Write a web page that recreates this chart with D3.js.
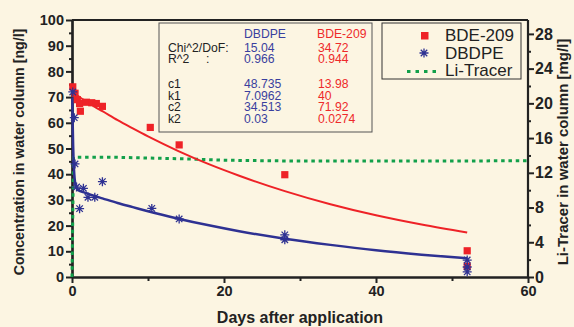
<!DOCTYPE html>
<html><head><meta charset="utf-8">
<script src="https://cdn.jsdelivr.net/npm/d3@7"></script>
<style>
body{margin:0;background:#fcf5e2;}
svg{display:block;font-family:"Liberation Sans",Arial,sans-serif;}
</style></head><body>
<svg id="chart" width="574" height="327"></svg>
<script>
// ---- data ----
const bdeDays   = [0.1, 0.4, 0.7, 1.0, 1.1, 1.9, 2.6, 3.2, 4.0, 10.3, 14.1, 28, 52, 52];
const bdeValues = [74, 71.5, 69, 67.5, 64.5, 68, 67.8, 67.5, 66.4, 58.2, 51.4, 39.8, 10.2, 4.2];

const dbdpeDays   = [0.1, 0.3, 0.4, 0.6, 1.0, 1.5, 2.1, 3.0, 4.0, 10.5, 14.1, 28, 28, 52, 52, 52];
const dbdpeValues = [72, 62, 44, 35, 26.6, 34.5, 31, 31, 37.1, 26.7, 22.6, 16.4, 14.5, 6.6, 3.9, 2.0];

// fitted curves (as drawn)
const fitDays     = [0.045, 0.07, 0.1, 0.15, 0.2, 0.3, 0.4, 0.5, 0.75, 1, 1.5, 2, 3, 4, 6, 8, 10, 14, 18, 22, 28, 34, 40, 46, 52];
const dbdpeFit    = [69.9, 64.1, 58.4, 51.2, 46.1, 40.0, 37.0, 35.4, 34.0, 33.5, 33.0, 32.5, 31.5, 30.6, 28.8, 27.2, 25.6, 22.7, 20.1, 17.8, 14.9, 12.5, 10.4, 8.7, 7.25];
const bdeFit      = [74.1, 72.6, 72.0, 71.7, 71.5, 71.3, 71.1, 70.9, 70.5, 70.0, 69.0, 68.1, 66.2, 64.5, 61.0, 57.8, 54.7, 49.0, 43.9, 39.4, 33.4, 28.3, 24.0, 20.4, 17.3];

const liDays   = [0, 0.2, 1, 5, 10, 15, 20, 25, 30, 40, 50, 60];
const liValues = [0, 13.8, 13.8, 13.8, 13.7, 13.6, 13.45, 13.4, 13.35, 13.35, 13.35, 13.4];

const xTicks = [0, 20, 40, 60];
const xMinor = [10, 30, 50];
const yTicks = [0, 10, 20, 30, 40, 50, 60, 70, 80, 90, 100];
const yMinor = [5, 15, 25, 35, 45, 55, 65, 75, 85, 95];
const rTicks = [0, 4, 8, 12, 16, 20, 24, 28];
const rMinor = [2, 6, 10, 14, 18, 22, 26];

const statLabels = ["Chi^2/DoF:", "R^2", "", "c1", "k1", "c2", "k2"];
const dbdpeStats = ["15.04", "0.966", "", "48.735", "7.0962", "34.513", "0.03"];
const bdeStats   = ["34.72", "0.944", "", "13.98", "40", "71.92", "0.0274"];

const legendNames = ["BDE-209", "DBDPE", "Li-Tracer"];

// ---- styles ----
const RED = "#ee2227", BLUE = "#2e3192", GREEN = "#12a04a";
const L = 72, R = 528, T = 20, B = 277;

const svg = d3.select("#chart");
svg.append("rect").attr("width", 574).attr("height", 327).attr("fill", "#fcf5e2");

const x = d3.scaleLinear().domain([0, 60]).range([L, R]);
const y = d3.scaleLinear().domain([0, 100]).range([B, T]);
const yr = d3.scaleLinear().domain([0, 29.6]).range([B, T]);

// frame top line
svg.append("line").attr("x1", L).attr("x2", R).attr("y1", T).attr("y2", T)
  .attr("stroke", "#222").attr("stroke-width", 2);

function styleAxis(g, size) {
  g.select(".domain").attr("stroke", "#222").attr("stroke-width", 2.2);
  g.selectAll(".tick line").attr("stroke", "#222").attr("stroke-width", 2);
  g.selectAll("text").attr("fill", "#222").attr("font-weight", "bold")
    .attr("font-size", size).attr("font-family", "Liberation Sans, Arial, sans-serif");
}

// left axis
const gl = svg.append("g").attr("transform", `translate(${L},0)`);
gl.call(d3.axisLeft(y).tickValues(yTicks).tickSize(6).tickPadding(2).tickSizeOuter(0));
styleAxis(gl, 14.5);
const glm = svg.append("g").attr("transform", `translate(${L},0)`);
glm.call(d3.axisLeft(y).tickValues(yMinor).tickSize(3).tickFormat("").tickSizeOuter(0));
styleAxis(glm, 14);

// right axis
const gr = svg.append("g").attr("transform", `translate(${R},0)`);
gr.call(d3.axisRight(yr).tickValues(rTicks).tickSize(6).tickPadding(1).tickSizeOuter(0));
styleAxis(gr, 16);
gr.select(".domain").attr("d", `M0,${B}V${T}`);
const grm = svg.append("g").attr("transform", `translate(${R},0)`);
grm.call(d3.axisRight(yr).tickValues(rMinor).tickSize(3).tickFormat("").tickSizeOuter(0));
styleAxis(grm, 14);
grm.select(".domain").remove();

// bottom axis
const gb = svg.append("g").attr("transform", `translate(0,${B})`);
gb.call(d3.axisBottom(x).tickValues(xTicks).tickSize(6).tickPadding(3).tickSizeOuter(0));
styleAxis(gb, 14.5);
const gbm = svg.append("g").attr("transform", `translate(0,${B})`);
gbm.call(d3.axisBottom(x).tickValues(xMinor).tickSize(4).tickFormat("").tickSizeOuter(0));
styleAxis(gbm, 14);

// axis titles
svg.append("text").attr("x", 300).attr("y", 323).attr("text-anchor", "middle")
  .attr("font-weight", "bold").attr("font-size", 16).attr("fill", "#222").text("Days after application");
svg.append("text").attr("transform", "translate(24,152) rotate(-90)").attr("text-anchor", "middle")
  .attr("font-weight", "bold").attr("font-size", 14.2).attr("fill", "#222").text("Concentration in water column [ng/l]");
svg.append("text").attr("transform", "translate(568,152) rotate(-90)").attr("text-anchor", "middle")
  .attr("font-weight", "bold").attr("font-size", 15).attr("fill", "#222").text("Li-Tracer in water column [mg/l]");

// Li tracer
const liData = liDays.map((d, i) => ({d, v: liValues[i]}));
svg.append("path").datum(liData)
  .attr("d", d3.line().x(p => x(p.d)).y(p => yr(p.v)))
  .attr("fill", "none").attr("stroke", GREEN).attr("stroke-width", 3).attr("stroke-dasharray", "3.5,3.8");

// fit curves
const lineY = d3.line().x(p => x(p.d)).y(p => y(p.v)).curve(d3.curveMonotoneX);
svg.append("path").datum(fitDays.map((d, i) => ({d, v: bdeFit[i]})))
  .attr("d", lineY).attr("fill", "none").attr("stroke", RED).attr("stroke-width", 2);
svg.append("path").datum(fitDays.map((d, i) => ({d, v: dbdpeFit[i]})))
  .attr("d", lineY).attr("fill", "none").attr("stroke", BLUE).attr("stroke-width", 2.5);

// asterisk path
function asterisk(r) {
  const a = r * 0.72;
  return `M${-r},0H${r}M0,${-r}V${r}M${-a},${-a}L${a},${a}M${-a},${a}L${a},${-a}`;
}

// BDE-209 squares
svg.append("g").selectAll("rect").data(bdeDays.map((d, i) => ({d, v: bdeValues[i]})))
  .join("rect")
  .attr("x", p => x(p.d) - 3.6).attr("y", p => y(p.v) - 3.6)
  .attr("width", 7.2).attr("height", 7.2).attr("fill", RED);

// DBDPE asterisks
svg.append("g").selectAll("path").data(dbdpeDays.map((d, i) => ({d, v: dbdpeValues[i]})))
  .join("path")
  .attr("transform", p => `translate(${x(p.d)},${y(p.v)})`)
  .attr("d", asterisk(4.5)).attr("fill", "none").attr("stroke", BLUE).attr("stroke-width", 1.3);

// stats box
svg.append("rect").attr("x", 159).attr("y", 23).attr("width", 213).attr("height", 109)
  .attr("fill", "#fcf5e2").attr("stroke", "#555").attr("stroke-width", 1);
const rowY = [51.5, 62.5, 75, 88, 99.5, 111, 122.5];
const st = svg.append("g").attr("font-size", 12.2);
st.append("text").attr("x", 244).attr("y", 38).attr("fill", "#3a3f9e").text("DBDPE");
st.append("text").attr("x", 317).attr("y", 38).attr("fill", "#ee2a2a").text("BDE-209");
statLabels.forEach((s, i) => {
  st.append("text").attr("x", 168).attr("y", rowY[i]).attr("fill", "#222").text(s);
  st.append("text").attr("x", 244).attr("y", rowY[i]).attr("fill", "#3a3f9e").text(dbdpeStats[i]);
  st.append("text").attr("x", 318).attr("y", rowY[i]).attr("fill", "#ee2a2a").text(bdeStats[i]);
});
st.append("text").attr("x", 206).attr("y", rowY[1]).attr("fill", "#222").text(":");

// legend
svg.append("rect").attr("x", 382).attr("y", 23).attr("width", 139).attr("height", 56)
  .attr("fill", "#fcf5e2").attr("stroke", "#333").attr("stroke-width", 1);
const lg = svg.append("g").attr("font-size", 17).attr("fill", "#222");
lg.append("rect").attr("x", 421).attr("y", 32).attr("width", 7.5).attr("height", 7.5).attr("fill", RED);
lg.append("path").attr("transform", "translate(424,53)").attr("d", asterisk(4.5))
  .attr("fill", "none").attr("stroke", BLUE).attr("stroke-width", 1.3);
lg.append("line").attr("x1", 407).attr("x2", 441).attr("y1", 71.5).attr("y2", 71.5)
  .attr("stroke", GREEN).attr("stroke-width", 3).attr("stroke-dasharray", "3.5,5");
[41, 58.5, 76].forEach((yy, i) => {
  lg.append("text").attr("x", 445).attr("y", yy).text(legendNames[i]);
});
</script>
</body></html>
